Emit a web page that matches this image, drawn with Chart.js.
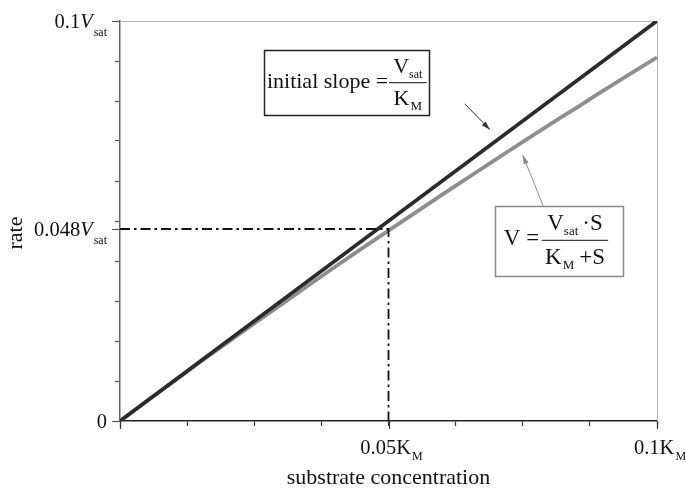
<!DOCTYPE html>
<html>
<head>
<meta charset="utf-8">
<script src="https://cdn.jsdelivr.net/npm/chart.js@4/dist/chart.umd.min.js"></script>
<style>
  html, body { margin: 0; padding: 0; background: #fff; }
  #wrap { width: 686px; height: 492px; position: relative; }
</style>
</head>
<body>
<div id="wrap"><canvas id="c" width="686" height="492"></canvas></div>
<script>
// Substrate concentration (units of K_M) and rate (units of V_sat)
const substrate = [0, 0.005, 0.01, 0.015, 0.02, 0.025, 0.03, 0.035, 0.04, 0.045, 0.05,
                   0.055, 0.06, 0.065, 0.07, 0.075, 0.08, 0.085, 0.09, 0.095, 0.1];
const rate = [0, 0.0050, 0.0099, 0.0148, 0.0196, 0.0244, 0.0291, 0.0338, 0.0385, 0.0431, 0.0476,
              0.0521, 0.0566, 0.0610, 0.0654, 0.0698, 0.0741, 0.0783, 0.0826, 0.0868, 0.0909];

// Tangent at the origin (initial slope = V_sat / K_M)
const slopeS = [0, 0.1];
const slopeV = [0, 0.1];

// Marked point on the curve
const markS = 0.05;
const markV = 0.048;

// Axis tick positions
const xTicks = [0, 0.0125, 0.025, 0.0375, 0.05, 0.0625, 0.075, 0.0875, 0.1];
const yTicks = [0, 0.01, 0.02, 0.03, 0.04, 0.048, 0.05, 0.06, 0.07, 0.08, 0.09, 0.1];

// Labelled ticks: [value, number text, unit, subscript, italic unit]
const xLabels = [[0.05, '0.05', 'K', 'M', false], [0.1, '0.1', 'K', 'M', false]];
const yLabels = [[0, '0', '', '', true], [0.048, '0.048', 'V', 'sat', true], [0.1, '0.1', 'V', 'sat', true]];

const SERIF = '"Liberation Serif", "Times New Roman", serif';

function drawRun(ctx, segs, x, y, align) {
  let w = 0;
  segs.forEach(s => { ctx.font = s.font; w += ctx.measureText(s.t).width + (s.gap || 0); });
  let cx = align === 'right' ? x - w : align === 'center' ? x - w / 2 : x;
  segs.forEach(s => {
    ctx.font = s.font;
    ctx.fillText(s.t, cx, y + (s.dy || 0));
    cx += ctx.measureText(s.t).width + (s.gap || 0);
  });
  return w;
}

function arrow(ctx, x1, y1, x2, y2, color) {
  ctx.save();
  ctx.strokeStyle = color; ctx.fillStyle = color; ctx.lineWidth = 1;
  ctx.beginPath(); ctx.moveTo(x1, y1); ctx.lineTo(x2, y2); ctx.stroke();
  const a = Math.atan2(y2 - y1, x2 - x1), L = 9, W = 2.6;
  ctx.beginPath();
  ctx.moveTo(x2, y2);
  ctx.lineTo(x2 - L * Math.cos(a) + W * Math.sin(a), y2 - L * Math.sin(a) - W * Math.cos(a));
  ctx.lineTo(x2 - L * Math.cos(a) - W * Math.sin(a), y2 - L * Math.sin(a) + W * Math.cos(a));
  ctx.closePath(); ctx.fill();
  ctx.restore();
}

const decorations = {
  id: 'decorations',
  beforeDatasetsDraw(chart) {
    const { ctx, chartArea: a } = chart;
    ctx.save();
    ctx.strokeStyle = '#b4b4b4'; ctx.lineWidth = 1;
    ctx.beginPath();
    ctx.moveTo(a.left, a.top + 0.5); ctx.lineTo(a.right + 0.5, a.top + 0.5); ctx.lineTo(a.right + 0.5, a.bottom);
    ctx.stroke();
    ctx.restore();
  },
  afterDraw(chart) {
    const { ctx, chartArea: a } = chart;
    const xs = chart.scales.x, ys = chart.scales.y;
    const px = v => xs.getPixelForValue(v), py = v => ys.getPixelForValue(v);
    ctx.save();

    // longer ticks at labelled values
    ctx.lineWidth = 1.2;
    ctx.strokeStyle = '#333';
    ctx.beginPath();
    [0].concat(xLabels.map(l => l[0])).forEach(v => { const x = Math.round(px(v)) + 0.5; ctx.moveTo(x, a.bottom); ctx.lineTo(x, a.bottom + 8); });
    ctx.stroke();
    ctx.strokeStyle = '#555';
    ctx.beginPath();
    yLabels.forEach(l => { const y = Math.round(py(l[0])) + 0.5; ctx.moveTo(a.left - 8, y); ctx.lineTo(a.left, y); });
    ctx.stroke();

    ctx.fillStyle = '#111';
    ctx.textBaseline = 'alphabetic';

    // y tick labels
    yLabels.forEach(([v, num, unit, sub, it]) => {
      const segs = [{ t: num, font: '20.5px ' + SERIF }];
      if (unit) segs.push({ t: unit, font: (it ? 'italic ' : '') + '20.5px ' + SERIF, gap: 1 });
      if (sub) segs.push({ t: sub, font: '12px ' + SERIF, dy: 8 });
      drawRun(ctx, segs, a.left - 13, py(v) + 6.5, 'right');
    });

    // x tick labels
    xLabels.forEach(([v, num, unit, sub]) => {
      const segs = [{ t: num, font: '20.5px ' + SERIF }, { t: unit, font: '20.5px ' + SERIF, gap: 1 }, { t: sub, font: '12px ' + SERIF, dy: 6 }];
      drawRun(ctx, segs, px(v) + 3, a.bottom + 33, 'center');
    });

    // axis titles
    ctx.font = '22px ' + SERIF;
    ctx.textAlign = 'center';
    ctx.fillText('substrate concentration', px(0.05), 484);
    ctx.save();
    ctx.translate(22, 233);
    ctx.rotate(-Math.PI / 2);
    ctx.fillText('rate', 0, 0);
    ctx.restore();
    ctx.textAlign = 'left';

    // box: initial slope
    let bx1 = px(0.0268), bx2 = px(0.0575), by1 = py(0.0927), by2 = py(0.0765);
    ctx.fillStyle = '#fff';
    ctx.fillRect(bx1, by1, bx2 - bx1, by2 - by1);
    ctx.strokeStyle = '#222'; ctx.lineWidth = 1.5;
    ctx.strokeRect(Math.round(bx1) + 0.5, Math.round(by1) + 0.5, Math.round(bx2 - bx1), Math.round(by2 - by1));
    ctx.fillStyle = '#111';
    drawRun(ctx, [{ t: 'initial slope', font: '22px ' + SERIF }, { t: ' =', font: '22px ' + SERIF }], bx1 + 3, by1 + 38, 'left');
    let fx1 = bx1 + 125, fx2 = bx2 - 2, fy = by1 + 32;
    ctx.lineWidth = 1; ctx.strokeStyle = '#111';
    ctx.beginPath(); ctx.moveTo(fx1, fy + 0.5); ctx.lineTo(fx2, fy + 0.5); ctx.stroke();
    drawRun(ctx, [{ t: 'V', font: '22px ' + SERIF }, { t: 'sat', font: '12px ' + SERIF, dy: 5 }], (fx1 + fx2) / 2, by1 + 23, 'center');
    drawRun(ctx, [{ t: 'K', font: '22px ' + SERIF, gap: 1 }, { t: 'M', font: '13px ' + SERIF, dy: 5 }], (fx1 + fx2) / 2, by1 + 55, 'center');

    // box: Michaelis-Menten equation
    bx1 = px(0.0698); bx2 = px(0.0937); by1 = py(0.0538); by2 = py(0.0363);
    ctx.fillStyle = '#fff';
    ctx.fillRect(bx1, by1, bx2 - bx1, by2 - by1);
    ctx.strokeStyle = '#8a8a8a'; ctx.lineWidth = 1.5;
    ctx.strokeRect(Math.round(bx1) + 0.5, Math.round(by1) + 0.5, Math.round(bx2 - bx1), Math.round(by2 - by1));
    ctx.fillStyle = '#111';
    drawRun(ctx, [{ t: 'V =', font: '23px ' + SERIF }], bx1 + 9, by1 + 39, 'left');
    fx1 = bx1 + 47; fx2 = bx2 - 15; fy = by1 + 34;
    ctx.lineWidth = 1; ctx.strokeStyle = '#111';
    ctx.beginPath(); ctx.moveTo(fx1, fy + 0.5); ctx.lineTo(fx2, fy + 0.5); ctx.stroke();
    drawRun(ctx, [{ t: 'V', font: '23px ' + SERIF }, { t: 'sat', font: '13px ' + SERIF, dy: 5, gap: 4 }, { t: '·S', font: '23px ' + SERIF }], (fx1 + fx2) / 2, by1 + 24, 'center');
    drawRun(ctx, [{ t: 'K', font: '23px ' + SERIF, gap: 1 }, { t: 'M', font: '13px ' + SERIF, dy: 5, gap: 5 }, { t: '+S', font: '23px ' + SERIF }], (fx1 + fx2) / 2, by1 + 58, 'center');

    // pointer arrows
    arrow(ctx, px(0.0642), py(0.0793), px(0.0689), py(0.0728), '#333');
    arrow(ctx, px(0.0788), py(0.0538), px(0.0750), py(0.0665), '#8a8a8a');

    ctx.restore();
  }
};

const axisCommon = {
  type: 'linear',
  min: 0,
  max: 0.1,
  ticks: { display: false },
  grid: { drawOnChartArea: false, drawTicks: true, tickLength: 5, tickWidth: 1.2 }
};

new Chart(document.getElementById('c'), {
  type: 'scatter',
  data: {
    datasets: [
      {
        label: 'marker',
        data: [{ x: 0, y: markV }, { x: markS, y: markV }, { x: markS, y: 0 }],
        showLine: true, borderColor: '#111', borderWidth: 1.8, borderDash: [10, 4, 2.5, 4],
        pointRadius: 0, order: 0
      },
      {
        label: 'initial slope',
        data: slopeS.map((s, i) => ({ x: s, y: slopeV[i] })),
        showLine: true, borderColor: '#2b2b2b', borderWidth: 3.8, pointRadius: 0, order: 1
      },
      {
        label: 'rate',
        data: substrate.map((s, i) => ({ x: s, y: rate[i] })),
        showLine: true, borderColor: '#8e8e8e', borderWidth: 3.8, pointRadius: 0,
        cubicInterpolationMode: 'monotone', order: 2
      }
    ]
  },
  options: {
    responsive: false,
    animation: false,
    layout: { padding: { top: 21, right: 29, left: 0, bottom: 0 } },
    plugins: { legend: { display: false }, tooltip: { enabled: false } },
    scales: {
      x: Object.assign({}, axisCommon, {
        grid: Object.assign({}, axisCommon.grid, { color: '#333', tickColor: '#333' }),
        border: { color: '#222', width: 1.5 },
        afterBuildTicks: s => { s.ticks = xTicks.map(v => ({ value: v })); },
        afterFit: s => { s.height = 71; }
      }),
      y: Object.assign({}, axisCommon, {
        grid: Object.assign({}, axisCommon.grid, { color: '#555', tickColor: '#555' }),
        border: { color: '#666', width: 1.5 },
        afterBuildTicks: s => { s.ticks = yTicks.map(v => ({ value: v })); },
        afterFit: s => { s.width = 120; }
      })
    }
  },
  plugins: [decorations]
});
</script>
</body>
</html>
